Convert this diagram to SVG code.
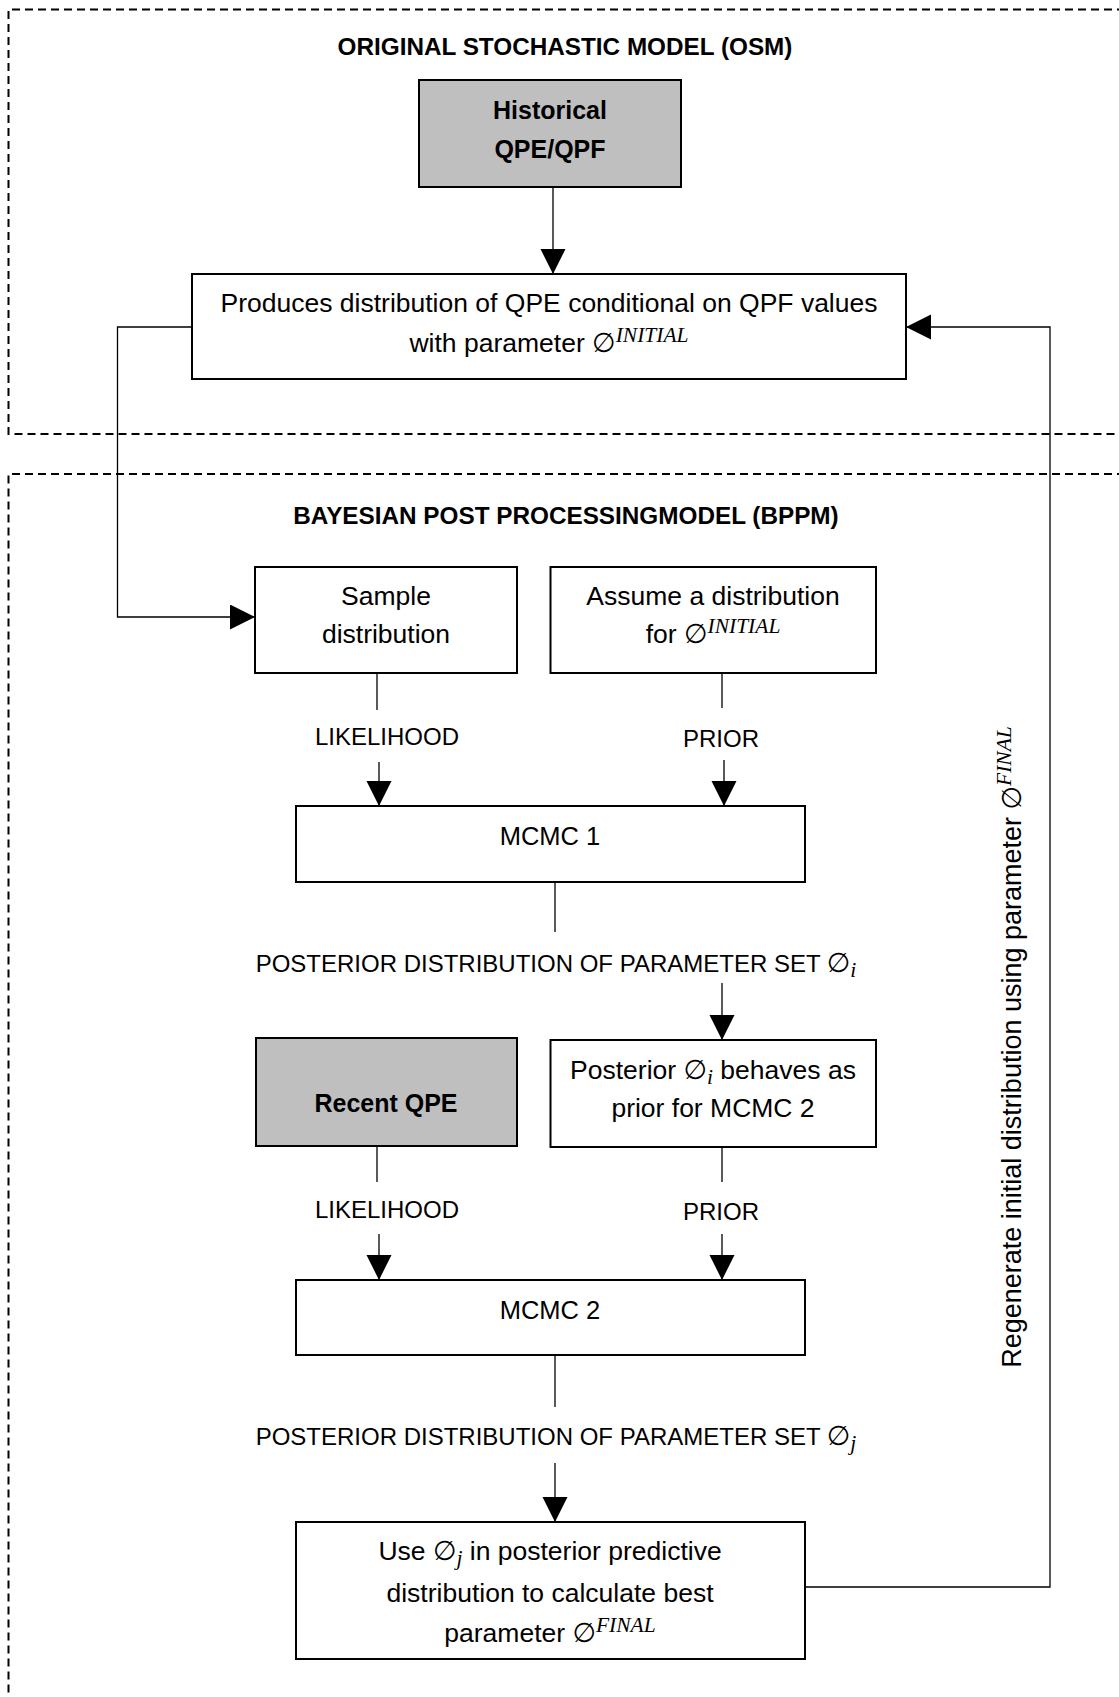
<svg xmlns="http://www.w3.org/2000/svg" width="1119" height="1697" viewBox="0 0 1119 1697">
<style>
.bg{fill:#ffffff}
.box{fill:#ffffff;stroke:#000;stroke-width:2}
.gray{fill:#bfbfbf;stroke:#000;stroke-width:2}
.dash{fill:none;stroke:#000;stroke-width:2;stroke-dasharray:8 5}
.c{fill:none;stroke:#000;stroke-width:1.3}
.t{font-family:"Liberation Sans",Arial,sans-serif;font-size:26.5px;fill:#000;text-anchor:middle}
.b{font-weight:bold;font-size:25px}
.ttl{font-size:24.3px}
.cap{font-size:24px}
.mc{font-size:25.5px}
.rot{font-size:27px}
.phi{font-family:"DejaVu Sans",sans-serif;font-size:27px}
.m{font-family:"Liberation Serif","Times New Roman",serif;font-style:italic;font-size:21.5px}
</style>
<defs>
<marker id="ah" markerUnits="userSpaceOnUse" markerWidth="26" markerHeight="26" viewBox="0 0 26 26" refX="25" refY="12.5" orient="auto">
<path d="M0,0 L25,12.5 L0,25 Z" fill="#000"/>
</marker>
</defs>
<rect class="bg" x="0" y="0" width="1119" height="1697"/>

<g id="frames">
<path class="dash" d="M1125,9.5 H8.5 V434 H1125"/>
<path class="dash" d="M1125,474 H8.5 V1705"/>
</g>

<g id="titles">
<text class="t b ttl" x="565" y="55">ORIGINAL STOCHASTIC MODEL (OSM)</text>
<text class="t b ttl" x="566" y="524">BAYESIAN POST PROCESSINGMODEL (BPPM)</text>
</g>

<g id="connectors">
<path class="c" d="M553,187 V274" marker-end="url(#ah)"/>
<path class="c" d="M192,327 H117.5 V617 H255" marker-end="url(#ah)"/>
<path class="c" d="M377,673 V710"/>
<path class="c" d="M379,762 V806" marker-end="url(#ah)"/>
<path class="c" d="M722,673 V708"/>
<path class="c" d="M724,760 V806" marker-end="url(#ah)"/>
<path class="c" d="M555,882 V932"/>
<path class="c" d="M722,983 V1040" marker-end="url(#ah)"/>
<path class="c" d="M377,1146 V1182"/>
<path class="c" d="M379,1234 V1280" marker-end="url(#ah)"/>
<path class="c" d="M722,1147 V1182"/>
<path class="c" d="M722,1234 V1280" marker-end="url(#ah)"/>
<path class="c" d="M555,1355 V1407"/>
<path class="c" d="M555,1463 V1522" marker-end="url(#ah)"/>
<path class="c" d="M805,1587 H1050 V327 H906" marker-end="url(#ah)"/>
</g>

<g id="edge-labels">
<text class="t cap" x="387" y="745">LIKELIHOOD</text>
<text class="t cap" x="721" y="747">PRIOR</text>
<text class="t cap" x="556" y="972">POSTERIOR DISTRIBUTION OF PARAMETER SET <tspan class="phi">∅</tspan><tspan class="m" dy="5">i</tspan></text>
<text class="t cap" x="387" y="1218">LIKELIHOOD</text>
<text class="t cap" x="721" y="1220">PRIOR</text>
<text class="t cap" x="556" y="1445">POSTERIOR DISTRIBUTION OF PARAMETER SET <tspan class="phi">∅</tspan><tspan class="m" dy="5">j</tspan></text>
<text class="t rot" transform="translate(1021,1047) rotate(-90)" x="0" y="0">Regenerate initial distribution using parameter <tspan class="phi">∅</tspan><tspan class="m" dy="-10">FINAL</tspan></text>
</g>

<g id="historical">
<rect class="gray" x="419" y="80" width="262" height="107"/>
<text class="t b" x="550" y="119">Historical</text>
<text class="t b" x="550" y="158">QPE/QPF</text>
</g>

<g id="produces">
<rect class="box" x="192" y="274" width="714" height="105"/>
<text class="t" x="549" y="312">Produces distribution of QPE conditional on QPF values</text>
<text class="t" x="549" y="352">with parameter <tspan class="phi">∅</tspan><tspan class="m" dy="-10">INITIAL</tspan></text>
</g>

<g id="sample">
<rect class="box" x="255" y="567" width="262" height="106"/>
<text class="t" x="386" y="605">Sample</text>
<text class="t" x="386" y="643">distribution</text>
</g>

<g id="assume">
<rect class="box" x="550.5" y="567" width="325.5" height="106"/>
<text class="t" x="713" y="605">Assume a distribution</text>
<text class="t" x="713" y="643">for <tspan class="phi">∅</tspan><tspan class="m" dy="-10">INITIAL</tspan></text>
</g>

<g id="mcmc1">
<rect class="box" x="296" y="806" width="509" height="76"/>
<text class="t mc" x="550" y="845">MCMC 1</text>
</g>

<g id="recent">
<rect class="gray" x="256" y="1038" width="261" height="108"/>
<text class="t b" x="386" y="1112">Recent QPE</text>
</g>

<g id="posterior">
<rect class="box" x="550.5" y="1040" width="325.5" height="107"/>
<text class="t" x="713" y="1079">Posterior <tspan class="phi">∅</tspan><tspan class="m" dy="5">i</tspan><tspan dy="-5"> behaves as</tspan></text>
<text class="t" x="713" y="1117">prior for MCMC 2</text>
</g>

<g id="mcmc2">
<rect class="box" x="296" y="1280" width="509" height="75"/>
<text class="t mc" x="550" y="1319">MCMC 2</text>
</g>

<g id="final">
<rect class="box" x="296" y="1522" width="509" height="137"/>
<text class="t" x="550" y="1560">Use <tspan class="phi">∅</tspan><tspan class="m" dy="5">j</tspan><tspan dy="-5"> in posterior predictive</tspan></text>
<text class="t" x="550" y="1602">distribution to calculate best</text>
<text class="t" x="550" y="1642">parameter <tspan class="phi">∅</tspan><tspan class="m" dy="-10">FINAL</tspan></text>
</g>
</svg>
